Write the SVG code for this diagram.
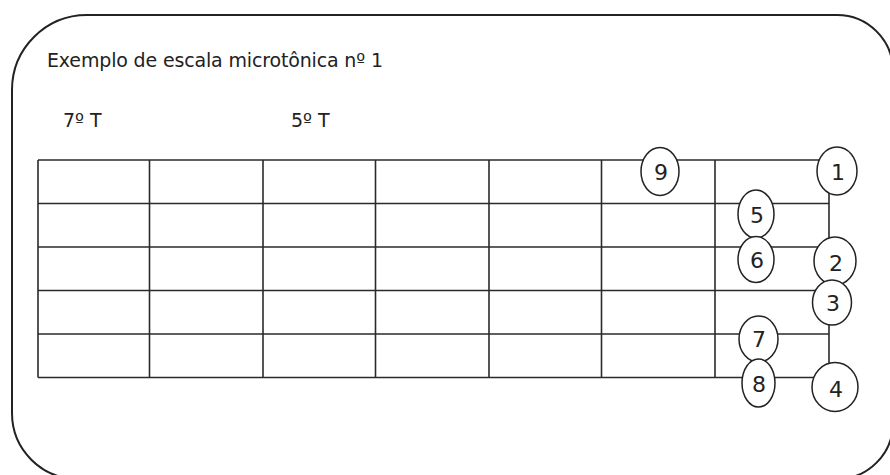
<svg xmlns="http://www.w3.org/2000/svg" width="890" height="475" viewBox="0 0 890 475">
  <style>
    .frame { fill: none; stroke: #222; stroke-width: 2; }
    .grid line { stroke: #2a2a2a; stroke-width: 1.6; }
    .note ellipse { fill: #fff; stroke: #222; stroke-width: 1.5; }
    .note text { font-family: "DejaVu Sans", "Liberation Sans", sans-serif; font-size: 22px; fill: #222; text-anchor: middle; }
    .label { font-family: "DejaVu Sans", "Liberation Sans", sans-serif; font-size: 19px; fill: #222; }
  </style>
  <rect width="890" height="475" fill="#fff"/>

  <!-- outer rounded frame (runs slightly past the right and bottom edges) -->
  <path class="frame" d="M 87 15 H 837 A 56 56 0 0 1 893 71 V 423 A 56 56 0 0 1 837 479 H 78 A 66 66 0 0 1 12 413 V 90 A 75 75 0 0 1 87 15 Z"/>

  <!-- headings -->
  <text class="label" x="47" y="67" textLength="336" lengthAdjust="spacing">Exemplo de escala microtônica nº 1</text>
  <text class="label" x="63" y="127">7º T</text>
  <text class="label" x="291" y="127">5º T</text>

  <!-- fretboard: strings and frets -->
  <g id="connectors" class="grid">
    <line x1="38" y1="160" x2="829" y2="160"/>
    <line x1="38" y1="203.5" x2="829" y2="203.5"/>
    <line x1="38" y1="247" x2="829" y2="247"/>
    <line x1="38" y1="290.5" x2="829" y2="290.5"/>
    <line x1="38" y1="334" x2="829" y2="334"/>
    <line x1="38" y1="377.5" x2="829" y2="377.5"/>
    <line x1="38" y1="160" x2="38" y2="377.5"/>
    <line x1="149.5" y1="160" x2="149.5" y2="377.5"/>
    <line x1="263" y1="160" x2="263" y2="377.5"/>
    <line x1="375.5" y1="160" x2="375.5" y2="377.5"/>
    <line x1="489" y1="160" x2="489" y2="377.5"/>
    <line x1="601.5" y1="160" x2="601.5" y2="377.5"/>
    <line x1="715" y1="160" x2="715" y2="377.5"/>
    <line x1="829" y1="160" x2="829" y2="377.5"/>
  </g>

  <!-- scale degrees -->
  <g id="n9" class="note"><ellipse cx="660" cy="171.5" rx="19" ry="24"/><text x="661" y="180">9</text></g>
  <g id="n1" class="note"><ellipse cx="837" cy="171" rx="20" ry="24"/><text x="838" y="180">1</text></g>
  <g id="n5" class="note"><ellipse cx="756" cy="214" rx="18" ry="24"/><text x="757" y="223">5</text></g>
  <g id="n6" class="note"><ellipse cx="756" cy="259.5" rx="18" ry="23"/><text x="757" y="268">6</text></g>
  <g id="n2" class="note"><ellipse cx="835" cy="261" rx="21" ry="24"/><text x="836" y="271">2</text></g>
  <g id="n3" class="note"><ellipse cx="832" cy="302.5" rx="19.5" ry="22.5"/><text x="833" y="311">3</text></g>
  <g id="n7" class="note"><ellipse cx="758.5" cy="339" rx="19.5" ry="23"/><text x="759" y="347">7</text></g>
  <g id="n8" class="note"><ellipse cx="758.5" cy="383" rx="16.5" ry="24"/><text x="759" y="392">8</text></g>
  <g id="n4" class="note"><ellipse cx="835" cy="387" rx="23" ry="24.5"/><text x="836" y="397">4</text></g>
</svg>
